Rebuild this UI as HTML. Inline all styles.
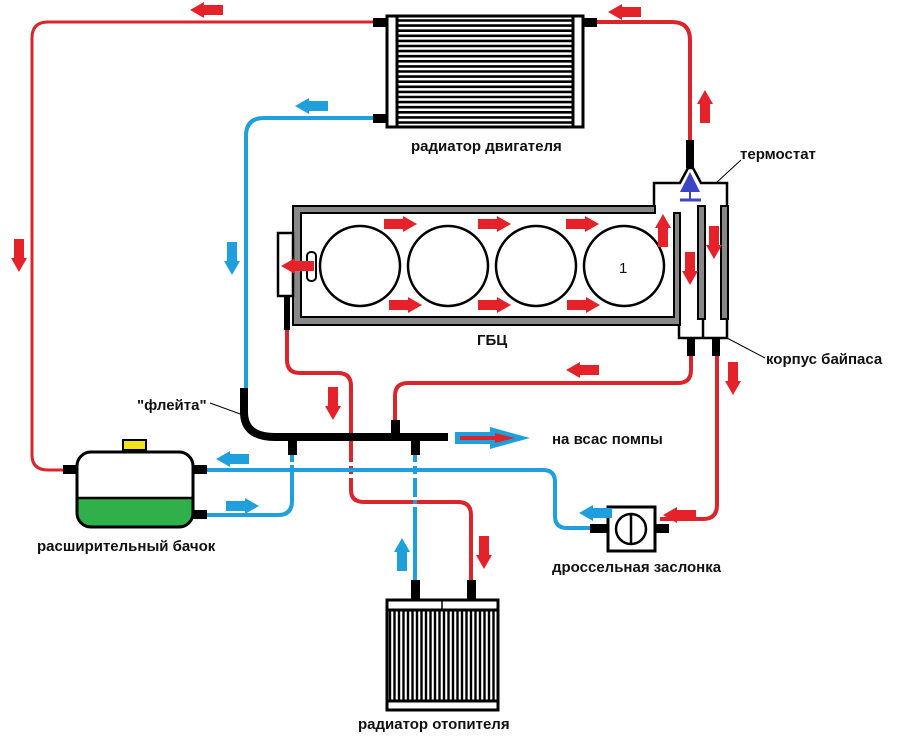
<!DOCTYPE html>
<html><head><meta charset="utf-8"><style>
html,body{margin:0;padding:0;background:#fff;}
svg{display:block;}
text{font-family:"Liberation Sans",sans-serif;font-weight:bold;font-size:15px;fill:#111;}
</style></head><body>
<svg width="903" height="746" viewBox="0 0 903 746" xmlns="http://www.w3.org/2000/svg">
<defs>
<path id="ar" d="M-16,-5 L3,-5 L3,-8 L17,0 L3,8 L3,5 L-16,5 Z"/>
</defs>
<g fill="none" stroke-linecap="butt">
<path d="M375,22 H48 Q32,22 32,38 V455 Q32,470 48,470 H68" stroke="#d9252b" stroke-width="3"/>
<path d="M590,22 H672 Q690,22 690,40 V145" stroke="#d9252b" stroke-width="4"/>
<path d="M287,325 V360 Q287,373 300,373 H338 Q351,373 351,386 V490 Q351,502 364,502 H458 Q471,502 471,515 V585" stroke="#d9252b" stroke-width="4"/>
<path d="M395,425 V396 Q395,383 408,383 H678 Q691,383 691,370 V345" stroke="#d9252b" stroke-width="4"/>
<path d="M717,345 V505 Q717,519 703,519 H660" stroke="#d9252b" stroke-width="4"/>
<path d="M378,118 H264 Q246,118 246,136 V395" stroke="#1fa0dc" stroke-width="4"/>
<path d="M200,470 H543 Q555,470 555,482 V516 Q555,528 567,528 H595" stroke="#1fa0dc" stroke-width="4"/>
<path d="M200,515 H278 Q292,515 292,501 V450" stroke="#1fa0dc" stroke-width="4"/>
<path d="M415,450 V585" stroke="#1fa0dc" stroke-width="4"/>
</g>
<g fill="#fff">
<rect x="347" y="462" width="8" height="4"/><rect x="347" y="474" width="8" height="4"/>
<rect x="413" y="462" width="4" height="4"/><rect x="413" y="474" width="4" height="4"/>
<rect x="413" y="497" width="4" height="3"/><rect x="413" y="504" width="4" height="3"/>
<rect x="288" y="462" width="8" height="3"/>
</g>
<g fill="#000">
<rect x="373" y="18" width="14" height="9"/>
<rect x="373" y="114" width="14" height="9"/>
<rect x="583" y="18" width="14" height="9"/>
<rect x="686" y="140" width="8" height="28"/>
<rect x="284" y="295" width="6" height="35"/>
<rect x="687" y="338" width="8" height="18"/>
<rect x="712" y="338" width="8" height="18"/>
<rect x="63" y="465" width="15" height="9"/>
<rect x="193" y="465" width="14" height="9"/>
<rect x="193" y="510" width="14" height="9"/>
<rect x="590" y="524" width="18" height="9"/>
<rect x="655" y="524" width="14" height="9"/>
<rect x="411" y="580" width="9" height="20"/>
<rect x="467" y="580" width="9" height="20"/>
<rect x="288" y="437" width="9" height="18"/>
<rect x="411" y="437" width="9" height="18"/>
<rect x="391" y="420" width="9" height="18"/>
</g>
<path d="M244,388 V412 Q244,437 275,437 H448" fill="none" stroke="#000" stroke-width="8"/>
<rect x="387" y="16" width="196" height="111" fill="#fff" stroke="#000" stroke-width="3"/>
<line x1="397" y1="16" x2="397" y2="127" stroke="#000" stroke-width="3"/>
<line x1="573" y1="16" x2="573" y2="127" stroke="#000" stroke-width="3"/>
<g stroke="#000" stroke-width="2.6">
<line x1="397" y1="20.5" x2="573" y2="20.5"/><line x1="397" y1="25.6" x2="573" y2="25.6"/><line x1="397" y1="30.7" x2="573" y2="30.7"/><line x1="397" y1="35.8" x2="573" y2="35.8"/><line x1="397" y1="40.9" x2="573" y2="40.9"/><line x1="397" y1="46" x2="573" y2="46"/><line x1="397" y1="51.1" x2="573" y2="51.1"/><line x1="397" y1="56.2" x2="573" y2="56.2"/><line x1="397" y1="61.3" x2="573" y2="61.3"/><line x1="397" y1="66.4" x2="573" y2="66.4"/><line x1="397" y1="71.5" x2="573" y2="71.5"/><line x1="397" y1="76.6" x2="573" y2="76.6"/><line x1="397" y1="81.7" x2="573" y2="81.7"/><line x1="397" y1="86.8" x2="573" y2="86.8"/><line x1="397" y1="91.9" x2="573" y2="91.9"/><line x1="397" y1="97" x2="573" y2="97"/><line x1="397" y1="102.1" x2="573" y2="102.1"/><line x1="397" y1="107.2" x2="573" y2="107.2"/><line x1="397" y1="112.3" x2="573" y2="112.3"/><line x1="397" y1="117.4" x2="573" y2="117.4"/><line x1="397" y1="122.5" x2="573" y2="122.5"/>
</g>
<rect x="387" y="600" width="111" height="110" fill="#fff" stroke="#000" stroke-width="3"/>
<line x1="387" y1="610" x2="498" y2="610" stroke="#000" stroke-width="3"/>
<line x1="387" y1="701" x2="498" y2="701" stroke="#000" stroke-width="3"/>
<line x1="442" y1="600" x2="442" y2="610" stroke="#000" stroke-width="1.5"/>
<g stroke="#000" stroke-width="2.4">
<line x1="390" y1="610" x2="390" y2="701"/><line x1="394.5" y1="610" x2="394.5" y2="701"/><line x1="399" y1="610" x2="399" y2="701"/><line x1="403.5" y1="610" x2="403.5" y2="701"/><line x1="408" y1="610" x2="408" y2="701"/><line x1="412.5" y1="610" x2="412.5" y2="701"/><line x1="417" y1="610" x2="417" y2="701"/><line x1="421.5" y1="610" x2="421.5" y2="701"/><line x1="426" y1="610" x2="426" y2="701"/><line x1="430.5" y1="610" x2="430.5" y2="701"/><line x1="435" y1="610" x2="435" y2="701"/><line x1="439.5" y1="610" x2="439.5" y2="701"/><line x1="444" y1="610" x2="444" y2="701"/><line x1="448.5" y1="610" x2="448.5" y2="701"/><line x1="453" y1="610" x2="453" y2="701"/><line x1="457.5" y1="610" x2="457.5" y2="701"/><line x1="462" y1="610" x2="462" y2="701"/><line x1="466.5" y1="610" x2="466.5" y2="701"/><line x1="471" y1="610" x2="471" y2="701"/><line x1="475.5" y1="610" x2="475.5" y2="701"/><line x1="480" y1="610" x2="480" y2="701"/><line x1="484.5" y1="610" x2="484.5" y2="701"/><line x1="489" y1="610" x2="489" y2="701"/><line x1="493.5" y1="610" x2="493.5" y2="701"/>
</g>
<path d="M654,208 V183 H680 L688,168 H693 L701,183 H727 V338 H679 V320" fill="#fff" stroke="#000" stroke-width="2.5"/>
<line x1="703" y1="320" x2="703" y2="338" stroke="#000" stroke-width="2.5"/>
<polygon points="690,172 680,192 700,192" fill="#3c46c4"/>
<line x1="690" y1="192" x2="690" y2="199" stroke="#3c46c4" stroke-width="2"/>
<line x1="680" y1="200" x2="701" y2="200" stroke="#3c46c4" stroke-width="3"/>
<rect x="698" y="206" width="7" height="113" fill="#888" stroke="#000" stroke-width="2"/>
<rect x="721" y="206" width="7" height="113" fill="#888" stroke="#000" stroke-width="2"/>
<path d="M293,206 H655 V213 H301 V317 H674 V213 H680 V325 H293 Z" fill="#888" stroke="#000" stroke-width="2"/>
<rect x="278" y="233" width="15" height="63" fill="#fff" stroke="#000" stroke-width="2.5"/>
<rect x="307" y="252" width="9" height="29" rx="4" fill="#fff" stroke="#000" stroke-width="2"/>
<g fill="#fff" stroke="#000" stroke-width="2.5">
<circle cx="360" cy="266" r="40"/><circle cx="448" cy="266" r="40"/><circle cx="536" cy="266" r="40"/><circle cx="624" cy="266" r="40"/>
</g>
<text x="619" y="273" style="font-weight:normal;font-size:15px">1</text>
<rect x="77" y="452" width="116" height="75" rx="14" fill="#fff"/>
<path d="M77,498 H193 V513 Q193,527 179,527 H91 Q77,527 77,513 Z" fill="#2fb04a"/>
<rect x="77" y="452" width="116" height="75" rx="14" fill="none" stroke="#000" stroke-width="3"/>
<line x1="77" y1="498" x2="193" y2="498" stroke="#000" stroke-width="2.5"/>
<rect x="123" y="440" width="23" height="10" fill="#f2e21a" stroke="#000" stroke-width="2"/>
<rect x="608" y="507" width="47" height="44" fill="#fff" stroke="#000" stroke-width="3"/>
<circle cx="631" cy="529" r="15" fill="#fff" stroke="#000" stroke-width="2.5"/>
<line x1="631" y1="514" x2="631" y2="544" stroke="#000" stroke-width="2.5"/>
<g stroke="#000" stroke-width="1">
<line x1="741" y1="160" x2="716" y2="183"/>
<line x1="727" y1="338" x2="765" y2="358"/>
<line x1="210" y1="403" x2="243" y2="415"/>
</g>
<g fill="#e5212a">
<use href="#ar" transform="translate(207,10) rotate(180)"/>
<use href="#ar" transform="translate(625,12) rotate(180)"/>
<use href="#ar" transform="translate(19,255) rotate(90)"/>
<use href="#ar" transform="translate(705,107) rotate(-90)"/>
<use href="#ar" transform="translate(400,224)"/>
<use href="#ar" transform="translate(494,224)"/>
<use href="#ar" transform="translate(582,224)"/>
<use href="#ar" transform="translate(405,305)"/>
<use href="#ar" transform="translate(494,305)"/>
<use href="#ar" transform="translate(583,305)"/>
<use href="#ar" transform="translate(298,266) rotate(180)"/>
<use href="#ar" transform="translate(663,231) rotate(-90)"/>
<use href="#ar" transform="translate(690,268) rotate(90)"/>
<use href="#ar" transform="translate(714,242) rotate(90)"/>
<use href="#ar" transform="translate(333,403) rotate(90)"/>
<use href="#ar" transform="translate(583,370) rotate(180)"/>
<use href="#ar" transform="translate(733,378) rotate(90)"/>
<use href="#ar" transform="translate(484,552) rotate(90)"/>
<use href="#ar" transform="translate(680,515) rotate(180)"/>
</g>
<g fill="#1fa0dc">
<use href="#ar" transform="translate(312,106) rotate(180)"/>
<use href="#ar" transform="translate(232,258) rotate(90)"/>
<use href="#ar" transform="translate(233,459) rotate(180)"/>
<use href="#ar" transform="translate(242,506)"/>
<use href="#ar" transform="translate(402,555) rotate(-90)"/>
<use href="#ar" transform="translate(596,513) rotate(180)"/>
</g>
<path d="M455,432 H490 V427 L530,438 L490,449 V444 H455 Z" fill="#1fa0dc"/>
<path d="M460,436 H495 V433 L515,438 L495,443 V440 H460 Z" fill="#d9252b"/>
<text x="411" y="151">радиатор двигателя</text>
<text x="740" y="159">термостат</text>
<text x="477" y="345">ГБЦ</text>
<text x="766" y="364">корпус байпаса</text>
<text x="137" y="410">"флейта"</text>
<text x="552" y="444">на всас помпы</text>
<text x="37" y="551">расширительный бачок</text>
<text x="552" y="572">дроссельная заслонка</text>
<text x="358" y="729">радиатор отопителя</text>
</svg>
</body></html>
